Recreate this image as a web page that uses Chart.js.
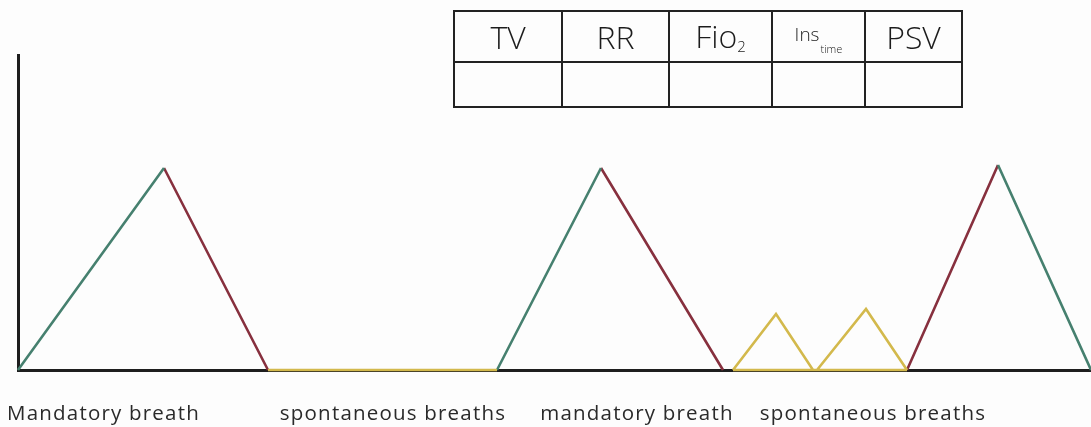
<!DOCTYPE html>
<html>
<head>
<meta charset="utf-8">
<script src="https://cdn.jsdelivr.net/npm/chart.js@4"></script>
<style>
  html,body{margin:0;padding:0;background:#fff;}
  #wrap{position:relative;width:1091px;height:427px;overflow:hidden;background:#fdfdfd;}
  canvas{position:absolute;left:0;top:0;}
  table.params{position:absolute;left:453px;top:10px;border-collapse:collapse;
    font-family:"Open Sans","DejaVu Sans",sans-serif;font-weight:300;color:#1c1c1c;}
  table.params td{border:2px solid #222;padding:0;text-align:center;vertical-align:middle;}
  table.params tr.h td{height:49px;font-size:32px;line-height:1;}
  table.params tr.v td{height:43px;}
  .sub{font-size:15px;vertical-align:-4px;}
  .ins{font-size:19px;position:relative;top:-8px;}
  .tm{font-size:11px;position:relative;top:4px;margin-left:1px;}
</style>
</head>
<body>
<div id="wrap">
  <canvas id="c" width="1091" height="427"></canvas>
  <table class="params" id="params"></table>
</div>
<script>
// ---- data (time units along x, pressure units along y) ----
const xMax = 1073;
const yMax = 31.5;
// inspiratory limbs drawn in green
const greenX = [0, 146, null, 479, 583, null, 980, 1073];
const greenY = [0, 20.2, null, 0, 20.2, null, 20.5, 0];
// expiratory limbs drawn in red
const redX = [146, 250, null, 583, 705, null, 889, 980];
const redY = [20.2, 0, null, 20.2, 0, null, 0, 20.5];
// spontaneous breaths (yellow)
const spontX = [250, 479, null, 715, 758, 795, 799, 848, 889, null, 715, 889];
const spontY = [0, 0, null, 0, 5.6, 0, 0, 6.1, 0, null, 0, 0];
// labels under the axis and their centre positions
const phaseLabels = ["Mandatory breath", "spontaneous breaths", "mandatory breath", "spontaneous breaths"];
const phasePos = [85.5, 375, 619, 855];
// table headers
const tableHeaders = ["TV", "RR", "Fio<span class='sub'>2</span>", "<span class='ins'>Ins</span><span class='tm'>time</span>", "PSV"];
const colWidths = [106, 105, 101, 91, 95];

// ---- table ----
const tbl = document.getElementById('params');
let h = '<tr class="h">', v = '<tr class="v">';
tableHeaders.forEach((t, i) => { h += `<td style="width:${colWidths[i]}px">${t}</td>`; v += '<td></td>'; });
tbl.innerHTML = h + '</tr>' + v + '</tr>';

function pts(xs, ys){ return xs.map((x, i) => ({x: x === null ? NaN : x, y: ys[i] === null ? null : ys[i]})); }

const spacing = {
  id: 'spacing',
  beforeDraw(chart) { chart.ctx.letterSpacing = '1.2px'; }
};

new Chart(document.getElementById('c'), {
  type: 'scatter',
  data: {
    datasets: [
      {label: 'spont', data: pts(spontX, spontY), borderColor: '#d3b94c', showLine: true, pointRadius: 0, borderWidth: 2.6, spanGaps: false, clip: false},
      {label: 'insp', data: pts(greenX, greenY), borderColor: '#46806f', showLine: true, pointRadius: 0, borderWidth: 2.6, spanGaps: false, clip: false},
      {label: 'exp', data: pts(redX, redY), borderColor: '#87303e', showLine: true, pointRadius: 0, borderWidth: 2.6, spanGaps: false, clip: false}
    ]
  },
  plugins: [spacing],
  options: {
    responsive: false,
    animation: false,
    events: [],
    layout: {padding: {left: 18, right: 0, top: 55, bottom: 0}},
    plugins: {legend: {display: false}, tooltip: {enabled: false}},
    scales: {
      x: {
        type: 'linear', min: 0, max: xMax,
        grid: {display: false, drawTicks: false},
        border: {display: true, color: '#1e1e1e', width: 3},
        afterBuildTicks: (axis) => { axis.ticks = phasePos.map(v => ({value: v})); },
        afterFit: (axis) => { axis.height = 57; axis.paddingLeft = 0; axis.paddingRight = 0; },
        ticks: {
          autoSkip: false, maxRotation: 0, padding: 32, color: '#2a2a2a',
          font: {family: '"Open Sans"', size: 20.5},
          callback: (val) => { const i = phasePos.indexOf(val); return i >= 0 ? phaseLabels[i] : ''; }
        }
      },
      y: {
        type: 'linear', min: 0, max: yMax,
        grid: {display: false, drawTicks: false},
        border: {display: true, color: '#1e1e1e', width: 3},
        ticks: {display: false},
        afterFit: (axis) => { axis.width = 0; }
      }
    }
  }
});
</script>
</body>
</html>
